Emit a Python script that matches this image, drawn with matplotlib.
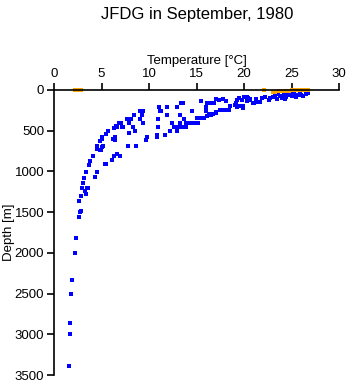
import matplotlib.pyplot as plt

plt.rcParams['font.family'] = ['Liberation Sans', 'DejaVu Sans']

# blue casts: temperature [degC] and depth [m]
blue_temp = [1.61, 1.65, 1.68, 1.79, 1.93, 2.17, 2.35, 2.63, 2.73, 2.8, 2.67, 2.88, 3.37, 3.26,
             2.95, 3.44, 3.6, 3.09, 3.16, 4.32, 3.37, 4.56, 3.72, 3.79, 4.14, 5.37, 5.5, 6.07,
             6.3, 6.6, 6.9, 4.9,
             4.5, 4.84, 5.05, 5.2, 5.1, 5.5, 5.7, 6.25, 6.45, 6.5, 6.6, 6.85, 7.1, 7.26, 7.65,
             8.07, 7.86, 7.8, 8.67, 7.9, 8.56, 8.35, 8.4, 9.0, 9.33, 9.1, 9.25, 9.4, 9.26,
             9.65, 9.8, 10.8, 10.8, 10.9, 10.95, 11.0, 11.16,
             4.5, 4.8, 5.0, 6.4, 6.3, 7.2,
             11.27, 11.7, 11.9, 11.9, 12.2, 12.4, 12.6, 12.9, 12.9, 13.1, 13.3, 13.6, 13.9,
             13.3, 13.3, 13.4, 13.55, 13.7, 13.9, 14.2, 14.5, 14.9, 15.2, 14.5, 15.1, 15.3,
             15.5, 15.8, 15.5, 16.1, 16.3, 16.5, 16.8, 16.0, 16.0, 16.1, 16.3, 16.5, 16.7,
             17.0, 17.1, 17.5, 17.75, 18.1, 18.4, 18.5, 17.1, 17.4, 17.75, 18.1, 19.0, 19.3,
             19.6, 19.9, 19.2, 19.3, 19.5, 19.8, 20.0, 20.3, 20.6, 20.3, 20.6, 20.96, 21.3,
             19.9, 20.4, 21.0, 21.3, 21.7, 21.9, 22.2, 22.6, 22.7, 23.1, 23.3, 23.6, 23.8,
             24.0, 24.2, 24.4, 24.6, 24.8, 25.0, 25.3, 25.6, 25.9, 26.2, 26.5, 26.7, 23.5,
             24.3, 25.5, 26.0]
blue_depth = [3393, 3000, 2865, 2505, 2337, 2006, 1822, 1564, 1502, 1482, 1359, 1301, 1277, 1240,
              1207, 1207, 1203, 1146, 1085, 1073, 1011, 1011, 921, 868, 806, 909, 909, 860,
              806, 790, 806, 737,
              684, 622, 580, 684, 705, 537, 507, 600, 580, 440, 460, 409, 409, 458, 356,
              356, 409, 684, 684, 524, 507, 458, 307, 356, 409, 258, 258, 258, 307,
              614, 580, 548, 580, 356, 458, 213, 258,
              720, 740, 606, 614, 463, 458,
              258, 553, 213, 307, 503, 409, 458, 213, 503, 458, 458, 458, 458,
              409, 307, 156, 164, 356, 409, 409, 409, 409, 409, 258, 348, 348,
              348, 348, 131, 156, 156, 156, 156, 213, 258, 315, 300, 307, 295,
              287, 266, 246, 246, 246, 246, 197, 115, 123, 115, 131, 190, 205,
              200, 200, 164, 123, 101, 123, 82, 90, 107, 131, 125, 164, 111,
              217, 102, 164, 152, 152, 94, 82, 123, 94, 82, 60, 45, 70,
              100, 50, 85, 60, 40, 70, 50, 65, 45, 70, 50, 40, 110,
              105, 80, 60]

# orange casts (surface)
orange_temp = [2.2, 2.4, 2.6, 2.8, 22.1, 23.1, 23.3, 23.7, 23.9, 24.1, 24.4, 24.7,
               25.0, 25.2, 25.5, 25.8, 26.1, 26.4, 26.7]
orange_depth = [0, 0, 0, 0, 5, 20, 20, 10, 10, 10, 10, 10, 5, 5, 5, 5, 5, 5, 5]

fig = plt.figure(figsize=(3.48, 3.84), dpi=100)
ax = fig.add_axes([54/348, 1 - 375/384, 285/348, 285/384])

ax.plot(blue_temp, blue_depth, 's', color='#0000ff', ms=2.4, mew=0, clip_on=False)
ax.plot(orange_temp, orange_depth, 's', color='#ffa500', ms=2.4, mew=0, clip_on=False)

ax.set_xlim(0, 30)
ax.set_ylim(3500, 0)
ax.set_xticks([0, 5, 10, 15, 20, 25, 30])
ax.set_yticks([0, 500, 1000, 1500, 2000, 2500, 3000, 3500])
ax.xaxis.tick_top()
ax.xaxis.set_label_position('top')
ax.spines['bottom'].set_visible(False)
ax.spines['right'].set_visible(False)
for s in ('top', 'left'):
    ax.spines[s].set_linewidth(1.2)
ax.tick_params(direction='out', length=5, width=1.2, labelsize=9.5, pad=2)
ax.set_xlabel('Temperature [°C]', fontsize=9.5, labelpad=3)
ax.set_ylabel('Depth [m]', fontsize=9.5)
ax.yaxis.set_label_coords(-0.138, 0.5)

fig.text(0.566, 1 - 14/384, 'JFDG in September, 1980', ha='center', va='center', fontsize=12)

fig.savefig('out.png', dpi=100)
